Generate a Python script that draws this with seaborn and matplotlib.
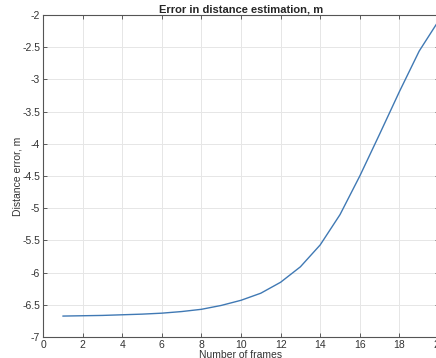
import numpy as np
import pandas as pd
import matplotlib
matplotlib.use("Agg")
import matplotlib.pyplot as plt
import seaborn as sns

frames = [1, 2, 3, 4, 5, 6, 7, 8, 9, 10, 11, 12, 13, 14, 15, 16, 17, 18, 19, 20]
dist_error = [-6.675, -6.67, -6.665, -6.655, -6.645, -6.63, -6.605, -6.57, -6.51, -6.43,
              -6.32, -6.15, -5.91, -5.57, -5.10, -4.50, -3.85, -3.19, -2.56, -2.08]

df = pd.DataFrame({"frames": frames, "err": dist_error})

sns.set_style("whitegrid")
plt.rcParams["font.family"] = ["Liberation Sans", "DejaVu Sans"]

fig = plt.figure(figsize=(4.36, 3.58), dpi=100)
ax = fig.add_axes([43 / 436, 1 - 337 / 358, 396 / 436, 322 / 358])

sns.lineplot(data=df, x="frames", y="err", ax=ax, color="#4079b4", linewidth=1.0)

ax.set_xlim(0, 20)
ax.set_ylim(-7, -2)
ax.set_xticks(np.arange(0, 21, 2))
ax.set_yticks(np.arange(-7, -1.9, 0.5))
ax.set_yticklabels(["-7", "-6.5", "-6", "-5.5", "-5", "-4.5", "-4", "-3.5", "-3", "-2.5", "-2"])

ax.grid(True, color="#e6e6e6", linewidth=0.7)
for s in ax.spines.values():
    s.set_visible(True)
    s.set_color("#555555")
    s.set_linewidth(0.8)

ax.tick_params(direction="in", length=3, width=0.6, color="#444444",
               labelsize=7.5, labelcolor="#333333", top=True, right=True,
               bottom=True, left=True, pad=2)

ax.set_title("Error in distance estimation, m", fontsize=8, fontweight="bold", pad=2)
ax.set_xlabel("Number of frames", fontsize=7.5, color="#333333", labelpad=0)
ax.set_ylabel("Distance error, m", fontsize=7.5, color="#333333")
ax.yaxis.set_label_coords(-0.053, 0.5)

fig.savefig("out.png", dpi=100)
